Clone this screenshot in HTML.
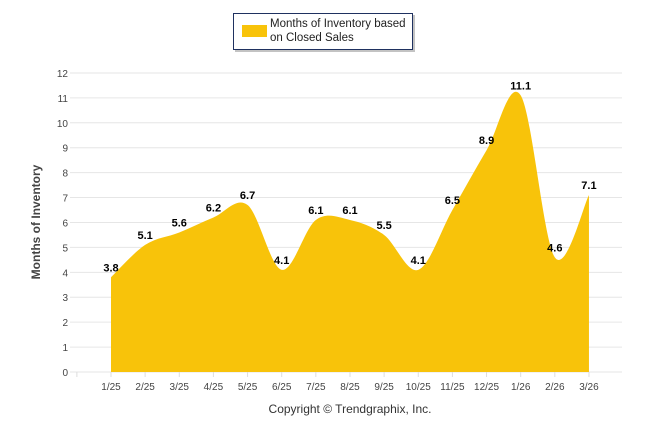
<!DOCTYPE html>
<html><head><meta charset="utf-8"><style>
body{margin:0;background:#fff;font-family:"Liberation Sans",sans-serif}
</style></head><body>
<svg width="646" height="434" style="display:block">
<g>
<rect x="235" y="15" width="180" height="37" fill="#888" opacity="0.5"/>
<rect x="233.5" y="13.5" width="179" height="36" fill="#fff" stroke="#1f3160" stroke-width="1"/>
<rect x="242" y="25" width="25" height="12" fill="#f8c30a"/>
<text x="270" y="27" font-size="11.5" fill="#222">Months of Inventory based</text>
<text x="270" y="41" font-size="11.5" fill="#222">on Closed Sales</text>
</g>
<g id="grid"></g>
<path id="area" fill="#f8c30a"/>
<g id="labels"></g>
<text x="40" y="222" font-size="12" font-weight="bold" fill="#444" text-anchor="middle" transform="rotate(-90 40 222)">Months of Inventory</text>
<text x="350" y="413" font-size="12" fill="#333" text-anchor="middle">Copyright © Trendgraphix, Inc.</text>
</svg>
<script>
const categories=["1/25","2/25","3/25","4/25","5/25","6/25","7/25","8/25","9/25","10/25","11/25","12/25","1/26","2/26","3/26"];
const values=[3.8,5.1,5.6,6.2,6.7,4.1,6.1,6.1,5.5,4.1,6.5,8.9,11.1,4.6,7.1];
const yTicks=[0,1,2,3,4,5,6,7,8,9,10,11,12];
const NS="http://www.w3.org/2000/svg";
const x0=111,dx=34.14,y0=372,ppu=24.92;
const X=i=>x0+i*dx, Y=v=>y0-v*ppu;
function mk(t,a,p){const e=document.createElementNS(NS,t);for(const k in a)e.setAttribute(k,a[k]);p.appendChild(e);return e;}
const g=document.getElementById('grid');
yTicks.forEach(t=>{
  const l=mk('line',{x1:70,x2:622,y1:Y(t),y2:Y(t),stroke:'#e6e6e6'},g);
  
  
  const tx=mk('text',{x:68,y:Y(t)+4,'font-size':10,fill:'#444','text-anchor':'end'},g);
  tx.textContent=t;
  
  
});
for(let k=0;k<=categories.length;k++){
  const xx=X(k)-dx;
  mk('line',{x1:xx,x2:xx,y1:y0,y2:y0+5,stroke:'#ddd'},g);
}
categories.forEach((c,i)=>{
  const t=mk('text',{x:X(i),y:390,'font-size':10,fill:'#444','text-anchor':'middle'},g);
  t.textContent=c;
  
  
});
const pts=values.map((v,i)=>[X(i),Y(v)]);
let d=`M${pts[0][0]},${y0}L${pts[0][0]},${pts[0][1]}`;
const s=1.5;
for(let i=1;i<pts.length;i++){
  const p0=pts[i-1],p1=pts[i],pm=pts[i-2]||p0,pn=pts[i+1]||p1;
  const c1=[p0[0]+(p1[0]-pm[0])/(s*4),p0[1]+(p1[1]-pm[1])/(s*4)];
  const c2=[p1[0]-(pn[0]-p0[0])/(s*4),p1[1]-(pn[1]-p0[1])/(s*4)];
  d+=`C${c1[0]},${c1[1]} ${c2[0]},${c2[1]} ${p1[0]},${p1[1]}`;
}
d+=`L${pts[pts.length-1][0]},${y0}Z`;
document.getElementById('area').setAttribute('d',d);
const lg=document.getElementById('labels');
values.forEach((v,i)=>{
  const t=mk('text',{x:X(i),y:Y(v)-6,'font-size':11,'font-weight':'bold',fill:'#000','text-anchor':'middle'},lg);
  t.textContent=v.toFixed(1);
  
  
});
</script>
</body></html>
